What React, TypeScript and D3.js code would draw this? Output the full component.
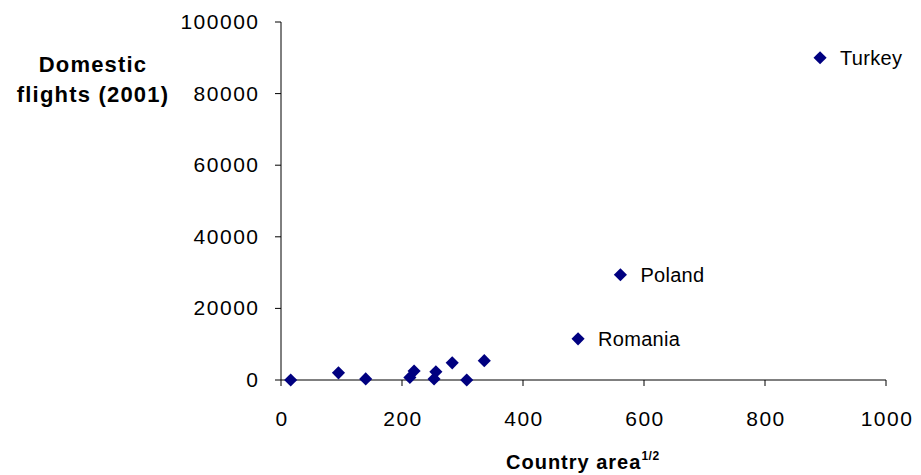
import React from "react";
import * as d3 from "d3";

const areaRoot = [16, 95, 140, 213, 220, 253, 256, 283, 307, 336, 491, 561, 891];
const flights = [0, 2000, 300, 700, 2500, 300, 2300, 4800, 0, 5400, 11500, 29400, 90000];
const pointLabels = ["", "", "", "", "", "", "", "", "", "", "Romania", "Poland", "Turkey"];
const xTicks = [0, 200, 400, 600, 800, 1000];
const yTicks = [0, 20000, 40000, 60000, 80000, 100000];

export default function App() {
  const W = 921, H = 475;
  const x = d3.scaleLinear().domain([0, 1000]).range([281, 886]);
  const y = d3.scaleLinear().domain([0, 100000]).range([380, 22]);
  const font = "Arial, 'Liberation Sans', sans-serif";
  const diamond = d3.symbol().type(d3.symbolDiamond2).size(110)();
  return (
    <svg width={W} height={H} style={{ position: "absolute", left: 0, top: 0, background: "#fff" }} fontFamily={font}>
      <rect width={W} height={H} fill="#fff" />
      {/* y axis */}
      <line x1={x(0)} x2={x(0)} y1={y(100000)} y2={y(0)} stroke="#000" strokeWidth={1} />
      {yTicks.map((t) => (
        <g key={"y" + t}>
          <line x1={x(0) - 6} x2={x(0)} y1={y(t)} y2={y(t)} stroke="#000" />
          <text x={x(0) - 21.5} y={y(t) + 7} textAnchor="end" fontSize={21} letterSpacing={1.5} fill="#000">{t}</text>
        </g>
      ))}
      {/* x axis */}
      <line x1={x(0)} x2={x(1000)} y1={y(0)} y2={y(0)} stroke="#000" strokeWidth={1} />
      {xTicks.map((t) => (
        <g key={"x" + t}>
          <line x1={x(t)} x2={x(t)} y1={y(0)} y2={y(0) + 6} stroke="#000" />
          <text x={x(t) + 1} y={y(0) + 46} textAnchor="middle" fontSize={21} letterSpacing={1.5} fill="#000">{t}</text>
        </g>
      ))}
      {/* points */}
      {areaRoot.map((v, i) => (
        <path key={"p" + i} d={diamond} transform={`translate(${x(v)},${y(flights[i])})`} fill="#000080" />
      ))}
      {areaRoot.map((v, i) =>
        pointLabels[i] ? (
          <text key={"l" + i} x={x(v) + 20} y={y(flights[i]) + 7} fontSize={20} letterSpacing={0.3} fill="#000">{pointLabels[i]}</text>
        ) : null
      )}
      {/* titles */}
      <text x={93} y={72} textAnchor="middle" fontSize={22} letterSpacing={1.2} fontWeight="bold" fill="#000">Domestic</text>
      <text x={93} y={102} textAnchor="middle" fontSize={22} letterSpacing={1.2} fontWeight="bold" fill="#000">flights (2001)</text>
      <text x={506} y={469} fontSize={20} letterSpacing={1} fontWeight="bold" fill="#000">
        Country area<tspan fontSize={12} dy={-9} letterSpacing={0.5}>1/2</tspan>
      </text>
    </svg>
  );
}
